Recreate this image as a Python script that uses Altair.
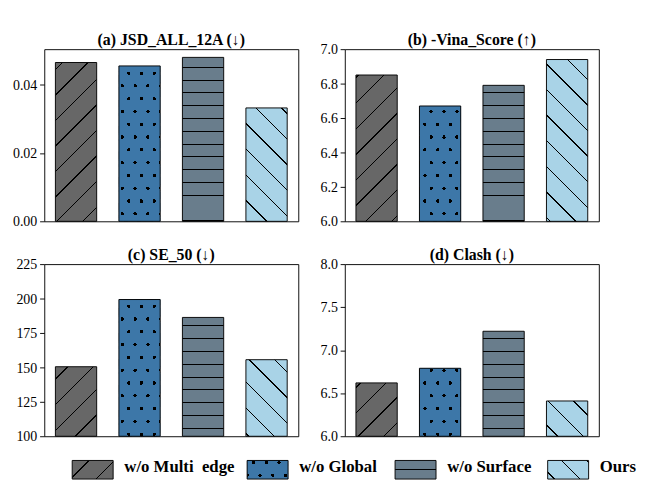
import math
import altair as alt
import pandas as pd

# ---------------- data ----------------
methods = ["w/o Multi\u00a0 edge", "w/o Global", "w/o Surface", "Ours"]
jsd_all_12a = [0.0465, 0.0455, 0.0480, 0.0332]
vina_score = [6.85, 6.67, 6.79, 6.94]
se_50 = [150.5, 199.3, 186.3, 155.6]
clash = [6.62, 6.79, 7.22, 6.41]

titles = ["(a) JSD_ALL_12A (↓)", "(b) -Vina_Score (↑)", "(c) SE_50 (↓)", "(d) Clash (↓)"]
y_domains = [[0.0, 0.0504], [6.0, 7.0], [100, 225], [6.0, 8.0]]
y_ticks = [[0.0, 0.02, 0.04], [6.0, 6.2, 6.4, 6.6, 6.8, 7.0],
           [100, 125, 150, 175, 200, 225], [6.0, 6.5, 7.0, 7.5, 8.0]]
y_formats = [".2f", ".1f", "d", ".1f"]

# ---------------- style ----------------
FILL = ["#676767", "#3d77a8", "#697d8c", "#a9d3e7"]
FONT = "Liberation Serif"
W, H = 273, 185
AXIS_W = 38
TITLE_FS = 17
HSP, VSP, LSP = 10, 18, 15
PAD_TOP = 7
PAD_IN, PAD_OUT = 0.35, 0.175
ORIGINS = [(46, 32), (367, 32), (46, 260), (367, 260)]
LEG_TOP = 468
CLEAR = "rgba(0,0,0,0)"


def stripes(w, h, ax, ay, a, b, period, phase, thick, base, line):
    """Linear gradient painting parallel stripes (a hatch) over a w x h box."""
    corners = [(0.0, 0.0), (1.0, 0.0), (0.0, 1.0), (1.0, 1.0)]
    sv = [a * cx * w + b * cy * h for cx, cy in corners]
    smin, smax = min(sv), max(sv)
    R = smax - smin
    cx, cy = corners[sv.index(smin)]
    den = a * a * w * w + b * b * h * h
    dx, dy = a * w * R / den, b * h * R / den
    s0 = a * ax + b * ay
    c = phase - s0
    k = math.floor((smin - thick - c) / period)
    stops = [(0.0, base)]
    while True:
        cl = c + k * period
        if cl - thick / 2 > smax:
            break
        t0 = max((cl - thick / 2 - smin) / R, 0.0)
        t1 = min((cl + thick / 2 - smin) / R, 1.0)
        if t1 > t0:
            stops += [(t0, base), (t0, line), (t1, line), (t1, base)]
        k += 1
    stops.append((1.0, base))
    return alt.Gradient(
        gradient="linear", x1=cx, y1=cy, x2=cx + dx, y2=cy + dy,
        stops=[alt.GradientStop(offset=round(o, 5), color=col) for o, col in stops],
    )


def pattern_marks(i, w, h, ax, ay):
    """Mark properties (hatch gradients) for pattern i on a box at (ax, ay)."""
    if i == 0:
        return [dict(fill=stripes(w, h, ax, ay, 1, 1, 27.5, 1.6, 1.5, FILL[0], "black"),
                     stroke="black", strokeWidth=1)]
    if i == 1:
        return [
            dict(fill=stripes(w, h, ax, ay, 1, -0.5, 13.75, 11.6, 3.8, FILL[1], "black")),
            dict(fill=stripes(w, h, ax, ay, 1, 0.5, 13.75, 0.55, 3.8, FILL[1], CLEAR)),
            dict(fill=stripes(w, h, ax, ay, 0, 1, 13.75, 2.7, 3.4, FILL[1], CLEAR)),
            dict(fill=CLEAR, stroke="black", strokeWidth=1),
        ]
    if i == 2:
        return [dict(fill=stripes(w, h, ax, ay, 0, 1, 13.75, 10.2, 1.0, FILL[2], "black"),
                     stroke="black", strokeWidth=1)]
    return [dict(fill=stripes(w, h, ax, ay, 1, -1, 27.5, 13.3, 1.5, FILL[3], "black"),
                 stroke="black", strokeWidth=1)]


def panel(k, values):
    lo, hi = y_domains[k]
    ox, oy = ORIGINS[k]
    df = pd.DataFrame({"method": methods, "value": values})
    step = W / (len(methods) - PAD_IN + 2 * PAD_OUT)
    bw = step * (1 - PAD_IN)
    xenc = alt.X("method:N", sort=methods,
                 scale=alt.Scale(domain=methods, paddingInner=PAD_IN, paddingOuter=PAD_OUT),
                 axis=None)
    yenc = alt.Y("value:Q",
                 scale=alt.Scale(domain=[lo, hi], nice=False, zero=False),
                 axis=alt.Axis(values=y_ticks[k], format=y_formats[k], title=None, grid=False,
                               domain=False, tickColor="black", tickSize=5, tickWidth=1,
                               labelFont=FONT, labelFontSize=15, labelColor="black",
                               labelPadding=3, minExtent=AXIS_W, maxExtent=AXIS_W))
    base = alt.Chart(df).encode(x=xenc, y=yenc, y2=alt.Y2(datum=lo))
    layers = []
    for i, m in enumerate(methods):
        v = values[i]
        h = (v - lo) / (hi - lo) * H
        bx = ox + step * (PAD_OUT + i)
        by = oy + H - h
        for md in pattern_marks(i, bw, h, bx, by):
            layers.append(base.transform_filter(alt.datum.method == m).mark_bar(**md))
    title = alt.Chart(pd.DataFrame({"title": [titles[k]]})).mark_text(
        align="center", baseline="alphabetic", font=FONT, fontSize=TITLE_FS,
        fontWeight="bold", color="black",
    ).encode(x=alt.value(W / 2), y=alt.value(-4), text="title:N")
    layers.append(title)
    return alt.layer(*layers).properties(
        width=W, height=H,
        view=alt.ViewBackground(stroke="black", strokeWidth=1),
    )


# ---------------- legend ----------------
LEG_SW_X = [30, 218, 377, 541]
LEG_TX_X = [86, 274, 433, 597]
SW_W, SW_H = 44, 20
leg_df = pd.DataFrame({"method": methods})
leg_layers = []
for i, m in enumerate(methods):
    src = alt.Chart(leg_df).transform_filter(alt.datum.method == m)
    for md in pattern_marks(i, SW_W, SW_H, 8 + LEG_SW_X[i], LEG_TOP):
        leg_layers.append(src.mark_rect(**md).encode(
            x=alt.value(LEG_SW_X[i]), x2=alt.value(LEG_SW_X[i] + SW_W),
            y=alt.value(0), y2=alt.value(SW_H)))
    leg_layers.append(src.mark_text(align="left", baseline="alphabetic", font=FONT,
                                    fontSize=18, fontWeight="bold", color="black").encode(
        x=alt.value(LEG_TX_X[i]), y=alt.value(12.5), text="method:N"))
legend = alt.layer(*leg_layers).properties(
    width=2 * W + HSP + AXIS_W, height=SW_H,
    view=alt.ViewBackground(stroke="transparent"))

grid = alt.vconcat(
    alt.hconcat(panel(0, jsd_all_12a), panel(1, vina_score), spacing=HSP),
    alt.hconcat(panel(2, se_50), panel(3, clash), spacing=HSP),
    spacing=VSP,
)
chart = alt.vconcat(grid, legend, spacing=LSP).properties(
    padding={"left": 0, "top": PAD_TOP, "right": 0, "bottom": 0}
).configure_view(stroke="transparent")

chart.save("out.html", embed_options={"renderer": "svg", "actions": False})
